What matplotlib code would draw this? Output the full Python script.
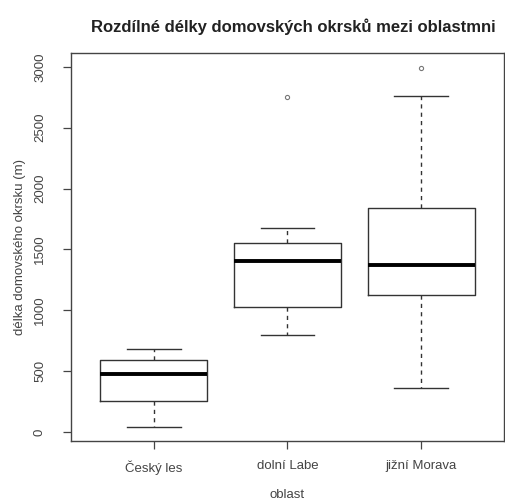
import matplotlib
matplotlib.use("Agg")
import matplotlib.pyplot as plt

plt.rcParams["font.family"] = ["Liberation Sans", "DejaVu Sans"]

# Box statistics (metres)
regions = ["Český les", "dolní Labe", "jižní Morava"]
whisker_low = [41, 797, 362]
q1 = [255, 1027, 1126]
medians = [477, 1405, 1372]
q3 = [592, 1553, 1840]
whisker_high = [682, 1676, 2761]
outliers = [[], [2753], [2991]]
y_ticks = [0, 500, 1000, 1500, 2000, 2500, 3000]

stats = []
for i, name in enumerate(regions):
    stats.append({
        "label": name,
        "whislo": whisker_low[i],
        "q1": q1[i],
        "med": medians[i],
        "q3": q3[i],
        "whishi": whisker_high[i],
        "fliers": outliers[i],
    })

fig = plt.figure(figsize=(5.06, 5.03), dpi=100)
ax = fig.add_axes([71 / 506, 1 - 441 / 503, 433 / 506, 388 / 503])

ax.bxp(
    stats,
    positions=[1, 2, 3],
    widths=0.8,
    boxprops=dict(color="#333333", linewidth=1.0),
    medianprops=dict(color="black", linewidth=2.8),
    whiskerprops=dict(color="#333333", linewidth=1.0, linestyle=(0, (3, 3))),
    capprops=dict(color="#333333", linewidth=1.0),
    capwidths=0.4,
    flierprops=dict(marker="o", markersize=3, markerfacecolor="none",
                    markeredgecolor="#777777", markeredgewidth=0.8),
)

ax.set_xlim(0.38, 3.62)
ax.set_ylim(-74, 3114)
ax.set_yticks(y_ticks)
ax.set_yticklabels([str(v) for v in y_ticks], rotation=90, va="center",
                   fontsize=9.5, color="#444444")
ax.set_xticks([1, 2, 3])
ax.set_xticklabels(regions, fontsize=9.5, color="#444444")
ax.tick_params(axis="x", length=6, width=0.9, color="#444444", pad=8)
ax.tick_params(axis="y", length=6, width=0.9, color="#444444", pad=12)

for sp in ax.spines.values():
    sp.set_color("#444444")
    sp.set_linewidth(1.0)

ax.set_xlabel("oblast", fontsize=9.5, color="#444444", labelpad=10)
ax.set_ylabel("délka domovského okrsku (m)", fontsize=9.5, color="#444444",
              labelpad=6)
fig.text(0.58, 1 - 27 / 503, "Rozdílné délky domovských okrsků mezi oblastmni",
         ha="center", va="center", fontsize=12, fontweight="bold", color="#222222")

fig.savefig("out.png", dpi=100, facecolor="white")
